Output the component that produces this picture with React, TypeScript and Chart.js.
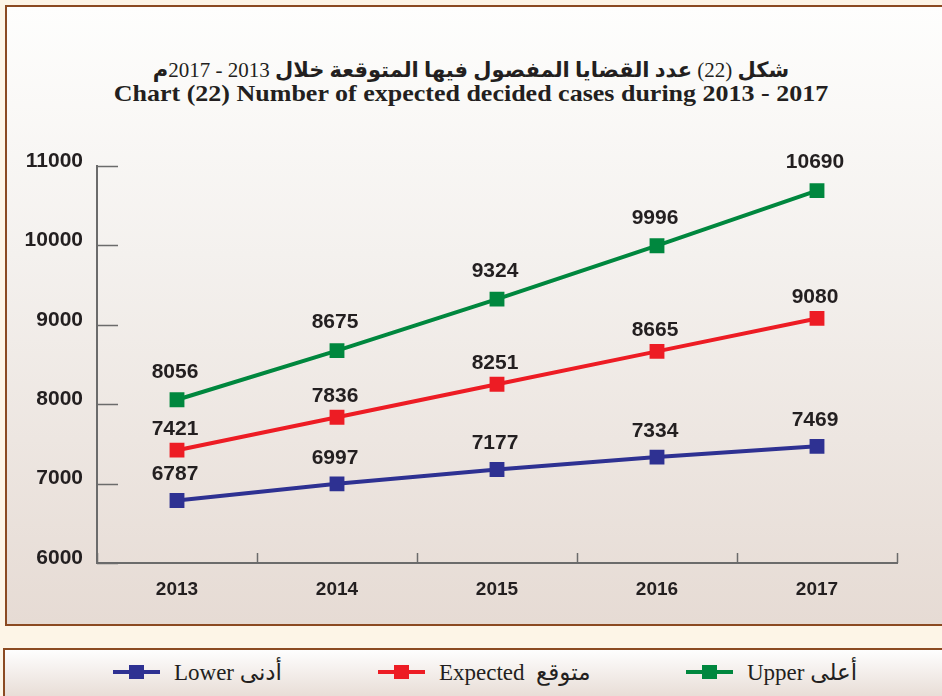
import React, { useEffect, useRef } from "react";
import { Chart, registerables } from "chart.js";

Chart.register(...registerables);

const years = ["2013", "2014", "2015", "2016", "2017"];
const lowerValues = [6787, 6997, 7177, 7334, 7469];
const expectedValues = [7421, 7836, 8251, 8665, 9080];
const upperValues = [8056, 8675, 9324, 9996, 10690];
const yTicks = [6000, 7000, 8000, 9000, 10000, 11000];

const titleArParts = [
  { t: "شكل", b: true },
  { t: " (22) ", b: false },
  { t: "عدد القضايا المفصول فيها المتوقعة خلال", b: true },
  { t: " 2013 - 2017", b: false },
  { t: "م", b: true },
];
const titleEn = "Chart (22) Number of expected decided cases during 2013 - 2017";

const BLUE = "#2e3192";
const RED = "#ed1c24";
const GREEN = "#00873e";
const BROWN = "#8b4a22";
const AXIS = "#6b6b6b";

const legendItems = [
  { label: "Lower أدنى", color: BLUE, x: 113 },
  { label: "Expected  متوقع", color: RED, x: 378 },
  { label: "Upper أعلى", color: GREEN, x: 686 },
];

const labelLift = [28, 21, 26];

const customTicks = {
  id: "customTicks",
  afterDraw(chart: any) {
    const ctx = chart.ctx;
    const x = chart.scales.x;
    const y = chart.scales.y;
    ctx.save();
    ctx.strokeStyle = AXIS;
    ctx.lineWidth = 1.5;
    yTicks.forEach((v) => {
      const py = Math.round(y.getPixelForValue(v)) + 0.5;
      ctx.beginPath();
      ctx.moveTo(x.left, py);
      ctx.lineTo(x.left + 21, py);
      ctx.stroke();
    });
    const n = years.length;
    const step = (x.right - x.left) / n;
    for (let i = 0; i <= n; i++) {
      const px = Math.round(x.left + step * i) + 0.5;
      ctx.beginPath();
      ctx.moveTo(px, y.bottom);
      ctx.lineTo(px, y.bottom - 10);
      ctx.stroke();
    }
    ctx.restore();
  },
};

const valueLabels = {
  id: "valueLabels",
  afterDatasetsDraw(chart: any) {
    const ctx = chart.ctx;
    ctx.save();
    ctx.font = "bold 21px 'Liberation Sans', Arial, sans-serif";
    ctx.fillStyle = "#231f20";
    ctx.textAlign = "center";
    ctx.textBaseline = "middle";
    chart.data.datasets.forEach((ds: any, di: number) => {
      const meta = chart.getDatasetMeta(di);
      meta.data.forEach((pt: any, i: number) => {
        ctx.fillText(String(ds.data[i]), pt.x - 2, pt.y - labelLift[di]);
      });
    });
    ctx.restore();
  },
};

export default function App() {
  const canvasRef = useRef<HTMLCanvasElement | null>(null);

  useEffect(() => {
    const canvas = canvasRef.current;
    if (!canvas) return;
    const mk = (label: string, data: number[], color: string) => ({
      label,
      data,
      borderColor: color,
      backgroundColor: color,
      borderWidth: 4,
      pointStyle: "rect",
      pointRadius: 10.5,
      pointHoverRadius: 10.5,
      pointBorderWidth: 0,
      tension: 0,
    });
    const chart = new Chart(canvas, {
      type: "line",
      data: {
        labels: years,
        datasets: [
          mk("Upper", upperValues, GREEN),
          mk("Expected", expectedValues, RED),
          mk("Lower", lowerValues, BLUE),
        ],
      },
      options: {
        animation: false,
        responsive: false,
        devicePixelRatio: 1,
        events: [],
        layout: { padding: { top: 166, right: 45, bottom: 0, left: 0 } },
        plugins: {
          legend: { display: false },
          title: { display: false },
          tooltip: { enabled: false },
        },
        scales: {
          x: {
            type: "category",
            offset: true,
            border: { display: true, color: AXIS, width: 2 },
            grid: { display: false, drawTicks: false },
            ticks: {
              padding: 15,
              color: "#231f20",
              font: { family: "'Liberation Sans', Arial, sans-serif", size: 19, weight: "bold" },
            },
            afterFit: (s: any) => {
              s.height = 133;
            },
          },
          y: {
            min: 6000,
            max: 11000,
            border: { display: true, color: AXIS, width: 2 },
            grid: { display: false, drawTicks: false },
            afterBuildTicks: (s: any) => {
              s.ticks = yTicks.map((v) => ({ value: v }));
            },
            ticks: {
              padding: 14,
              labelOffset: -5,
              color: "#231f20",
              callback: (v: any) => String(v),
              font: { family: "'Liberation Sans', Arial, sans-serif", size: 21, weight: "bold" },
            },
            afterFit: (s: any) => {
              s.width = 97;
            },
          },
        },
      },
      plugins: [customTicks, valueLabels],
    } as any);
    return () => chart.destroy();
  }, []);

  return (
    <div
      style={{
        position: "absolute",
        left: 0,
        top: 0,
        width: 942,
        height: 696,
        overflow: "hidden",
        background: "#fdf5e7",
      }}
    >
      <div
        style={{
          position: "absolute",
          left: 5,
          top: 5,
          width: 980,
          height: 621,
          boxSizing: "border-box",
          borderTop: `2px solid ${BROWN}`,
          borderLeft: `2px solid ${BROWN}`,
          borderBottom: `2px solid ${BROWN}`,
          background: "linear-gradient(#fefefd, #f4f1ee 40%, #e6dbd4)",
        }}
      />
      <div
        style={{
          position: "absolute",
          left: 3,
          top: 648,
          width: 980,
          height: 80,
          boxSizing: "border-box",
          borderTop: `2px solid ${BROWN}`,
          borderLeft: `2px solid ${BROWN}`,
          background: "linear-gradient(#fefefe, #e8ddd6 60%)",
        }}
      />
      <div
        dir="rtl"
        style={{
          position: "absolute",
          left: 0,
          top: 57,
          width: 942,
          textAlign: "center",
          fontFamily: "'Liberation Serif', 'DejaVu Sans', serif",
          fontSize: 21,
          lineHeight: "26px",
          color: "#231f20",
        }}
      >
        {titleArParts.map((p, i) => (
          <span key={i} style={{ fontWeight: p.b ? "bold" : "normal" }}>
            {p.t}
          </span>
        ))}
      </div>
      <div
        style={{
          position: "absolute",
          left: 0,
          top: 81,
          width: 942,
          textAlign: "center",
          fontFamily: "'Liberation Serif', 'Times New Roman', serif",
          fontWeight: "bold",
          fontSize: 26,
          lineHeight: "26px",
          color: "#231f20",
          transform: "scaleY(0.86)",
          transformOrigin: "50% 50%",
        }}
      >
        {titleEn}
      </div>
      {legendItems.map((it) => (
        <div
          key={it.label}
          style={{
            position: "absolute",
            left: it.x,
            top: 660,
            height: 24,
            display: "flex",
            alignItems: "center",
            fontFamily: "'Liberation Serif', 'DejaVu Sans', serif",
            fontSize: 23,
            color: "#231f20",
            whiteSpace: "pre",
          }}
        >
          <span style={{ position: "relative", width: 47, height: 24, display: "inline-block", marginRight: 14 }}>
            <span
              style={{
                position: "absolute",
                left: 0,
                top: 10,
                width: 47,
                height: 4,
                background: it.color,
              }}
            />
            <span
              style={{
                position: "absolute",
                left: 16,
                top: 5,
                width: 15,
                height: 14,
                background: it.color,
              }}
            />
          </span>
          <span>{it.label}</span>
        </div>
      ))}
      <canvas
        ref={canvasRef}
        width={942}
        height={696}
        style={{ position: "absolute", left: 0, top: 0, width: 942, height: 696 }}
      />
    </div>
  );
}
